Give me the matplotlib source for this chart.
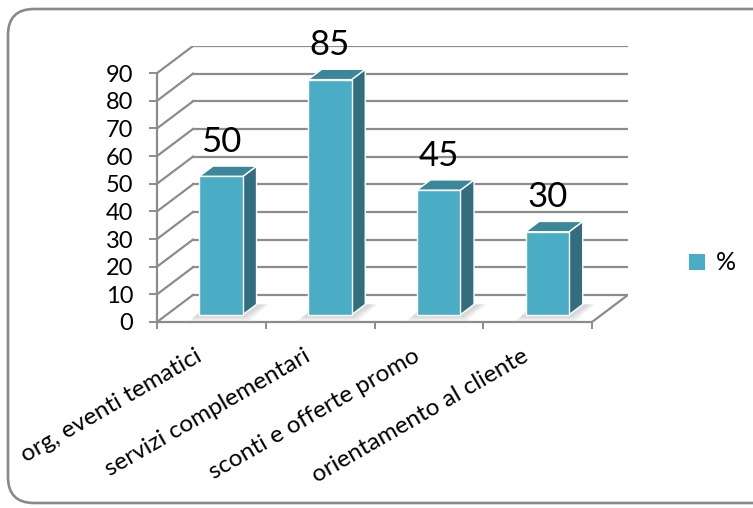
import matplotlib
matplotlib.use("Agg")
import matplotlib.pyplot as plt
import matplotlib.transforms as mtransforms
from matplotlib.patches import Polygon, FancyBboxPatch, Patch

plt.rcParams['font.family'] = ['Lato', 'DejaVu Sans']

categories = ["org, eventi tematici", "servizi complementari",
              "sconti e offerte promo", "orientamento al cliente"]
values = [50, 85, 45, 30]
y_ticks = [0, 10, 20, 30, 40, 50, 60, 70, 80, 90]
series_name = "%"

# colours of the three visible faces of each column
FRONT = "#4bacc6"
SIDE = "#326e7e"
TOP = "#3b8799"
GRID = "#8c8c8c"

# depth of the "3D" box, in data units (categories / values)
DX = 0.331
DY = 9.8
BAR_W = 0.40
T0, T1 = 0.27, 0.65   # front and back of the columns, as fractions of depth

W, H = 753, 508
fig = plt.figure(figsize=(W / 100, H / 100), dpi=100)

# rounded outer frame, drawn in pixel units on a full-figure axes
frame = fig.add_axes([0, 0, 1, 1])
frame.set_xlim(0, W)
frame.set_ylim(0, H)
frame.axis("off")
frame.add_patch(FancyBboxPatch((8, 5), 790, 494,
                               boxstyle="round,pad=0,rounding_size=26",
                               fc="white", ec="#8a8a8a", lw=1.9))

left, right, bottom, top = 157, 628, 322, 46
ax = fig.add_axes([left / W, 1 - bottom / H, (right - left) / W, (bottom - top) / H])
ax.patch.set_alpha(0)
n = len(categories)
ax.set_xlim(-0.5, n - 0.5 + DX)
ax.set_ylim(0, y_ticks[-1] + DY)

# back wall gridlines and the diagonals on the left wall
for v in y_ticks:
    ax.plot([-0.5 + DX, n - 0.5 + DX], [v + DY, v + DY], color=GRID, lw=1.6, zorder=1)
    ax.plot([-0.5, -0.5 + DX], [v, v + DY], color=GRID, lw=1.6, zorder=1)
# right edge of the floor
ax.plot([n - 0.5, n - 0.5 + DX], [0, DY], color=GRID, lw=1.6, zorder=1)

for i, v in enumerate(values):
    x0 = i - BAR_W / 2 + T0 * DX
    x1 = i + BAR_W / 2 + T0 * DX
    y0 = T0 * DY
    h = v + y0
    ddx = (T1 - T0) * DX
    ddy = (T1 - T0) * DY
    # soft floor shadow
    for k, a in enumerate([0.10, 0.10, 0.12]):
        e = 0.06 - k * 0.02
        ax.add_patch(Polygon([(x0 - e - 0.03, y0 - 2.2 + k * 0.6), (x1 + e, y0 - 2.2 + k * 0.6),
                              (x1 + ddx + e + 0.05, y0 + ddy), (x0 + ddx - e, y0 + ddy)],
                             closed=True, fc="#7f7f7f", ec="none", alpha=a, zorder=2))
    ax.add_patch(Polygon([(x1, y0), (x1, h), (x1 + ddx, h + ddy), (x1 + ddx, y0 + ddy)],
                         closed=True, fc=SIDE, ec="white", lw=1.0, zorder=3))
    ax.add_patch(Polygon([(x0, h), (x1, h), (x1 + ddx, h + ddy), (x0 + ddx, h + ddy)],
                         closed=True, fc=TOP, ec="white", lw=1.0, zorder=3))
    ax.add_patch(Polygon([(x0, y0), (x1, y0), (x1, h), (x0, h)],
                         closed=True, fc=FRONT, ec="white", lw=1.0, zorder=4))
    ax.text((x0 + x1) / 2, h + 12.5, str(v), ha="center", va="center",
            fontsize=25, color="black", zorder=5)

for s in ["top", "right"]:
    ax.spines[s].set_visible(False)
for s in ["left", "bottom"]:
    ax.spines[s].set_color(GRID)
    ax.spines[s].set_linewidth(1.6)
ax.spines["left"].set_bounds(0, y_ticks[-1])
ax.spines["bottom"].set_bounds(-0.5, n - 0.5)

ax.set_yticks(y_ticks)
ax.set_yticklabels([str(t) for t in y_ticks], fontsize=17)
ax.tick_params(axis="y", direction="out", length=6, width=1.4, color=GRID, pad=11)

ax.set_xticks([i - 0.5 for i in range(n + 1)])
ax.set_xticklabels([])
ax.tick_params(axis="x", which="major", direction="out", length=5, width=1.4, color=GRID)
ax.set_xticks(range(n), minor=True)
ax.set_xticklabels(categories, minor=True, rotation=30, ha="right", fontsize=17.5)
ax.tick_params(axis="x", which="minor", length=0, pad=17)
shift = mtransforms.ScaledTranslation(-6 / 100, 0, fig.dpi_scale_trans)
for lbl in ax.get_xticklabels(minor=True):
    lbl.set_transform(lbl.get_transform() + shift)

fig.legend(handles=[Patch(fc=FRONT, ec="none", label=series_name)],
           loc="center left", bbox_to_anchor=(689 / W, 1 - 263 / H),
           frameon=False, fontsize=18, handlelength=0.62, handleheight=0.62,
           handletextpad=0.45, borderpad=0, borderaxespad=0)

fig.savefig("out.png", dpi=100)
